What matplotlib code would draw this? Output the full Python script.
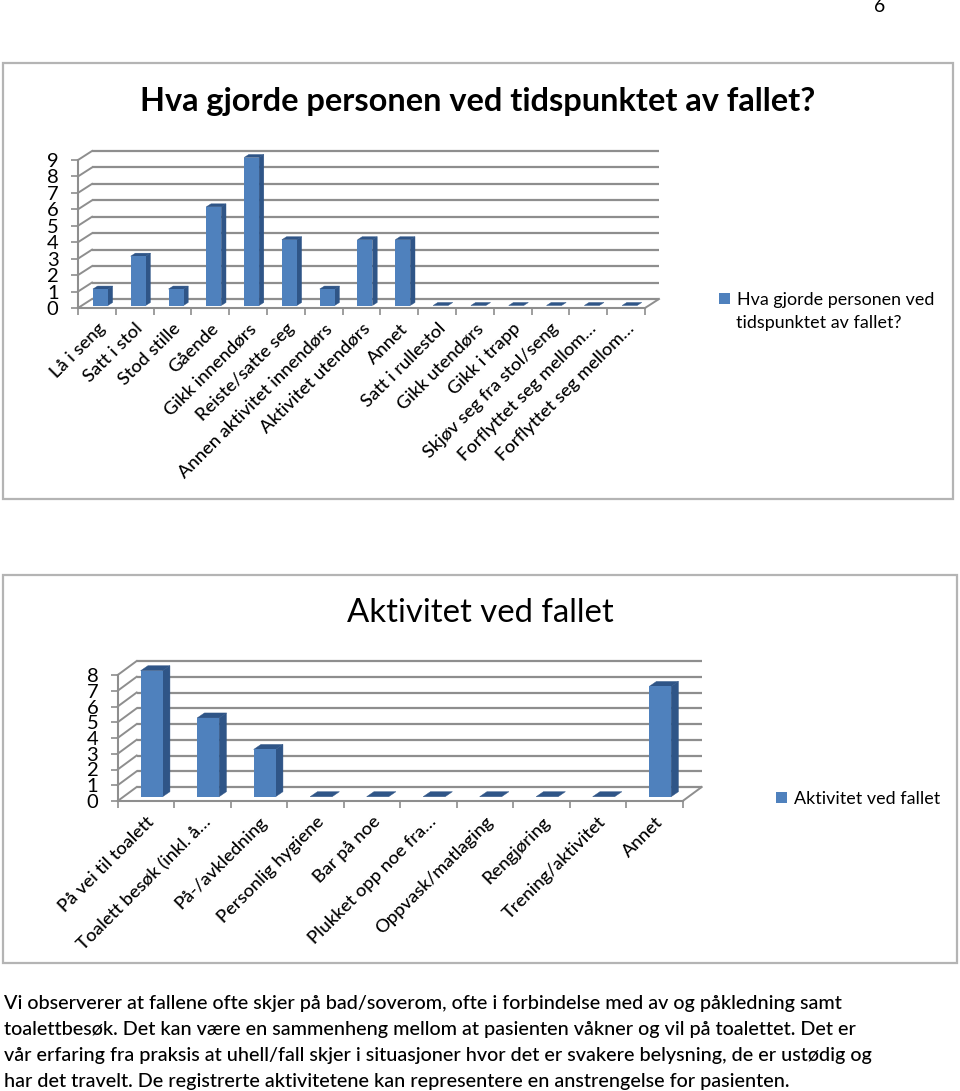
import matplotlib
matplotlib.use("Agg")
import matplotlib.pyplot as plt
from matplotlib.patches import Polygon, Rectangle

plt.rcParams['font.family'] = ['Lato', 'DejaVu Sans']

W, H = 960, 1091
TITLE1 = "Hva gjorde personen ved tidspunktet av fallet?"
LEGEND1 = ["Hva gjorde personen ved", "tidspunktet av fallet?"]
CATS1 = ["Lå i seng", "Satt i stol", "Stod stille", "Gående", "Gikk innendørs",
         "Reiste/satte seg", "Annen aktivitet innendørs", "Aktivitet utendørs",
         "Annet", "Satt i rullestol", "Gikk utendørs", "Gikk i trapp",
         "Skjøv seg fra stol/seng", "Forflyttet seg mellom…", "Forflyttet seg mellom…"]
VALS1 = [1, 3, 1, 6, 9, 4, 1, 4, 4, 0, 0, 0, 0, 0, 0]

TITLE2 = "Aktivitet ved fallet"
LEGEND2 = ["Aktivitet ved fallet"]
CATS2 = ["På vei til toalett", "Toalett besøk (inkl. å…", "På-/avkledning",
         "Personlig hygiene", "Bar på noe", "Plukket opp noe fra…",
         "Oppvask/matlaging", "Rengjøring", "Trening/aktivitet", "Annet"]
VALS2 = [8, 5, 3, 0, 0, 0, 0, 0, 0, 7]

BODY = ["Vi observerer at fallene ofte skjer på bad/soverom, ofte i forbindelse med av og påkledning samt",
        "toalettbesøk. Det kan være en sammenheng mellom at pasienten våkner og vil på toalettet. Det er",
        "vår erfaring fra praksis at uhell/fall skjer i situasjoner hvor det er svakere belysning, de er ustødig og",
        "har det travelt. De registrerte aktivitetene kan representere en anstrengelse for pasienten."]

FRONT, DARK, GRID = "#4F81BD", "#2F5587", "#8E8E8E"

fig = plt.figure(figsize=(W / 100, H / 100), dpi=100)


def frame(x0, y0, x1, y1):
    fig.add_artist(Rectangle((x0 / W, 1 - y1 / H), (x1 - x0) / W, (y1 - y0) / H,
                             transform=fig.transFigure, fill=False,
                             ec="#B4B4B4", lw=1.6))


def chart(cats, vals, left, right, floor, top, dx, dy, bw_px, bdx, bdy, sx, sy,
          legend, leg_xy, tick_fs):
    n = len(cats)
    ymax = max(vals)
    ax = fig.add_axes([left / W, 1 - floor / H, (right - left) / W, (floor - top) / H])
    ax.set_xlim(0, n)
    ax.set_ylim(0, ymax)
    ax.patch.set_alpha(0)
    cw = (right - left) / n      # px per category
    vh = (floor - top) / ymax    # px per unit
    d = lambda px: px / cw
    v = lambda px: px / vh

    # back wall gridlines, side-wall diagonals, floor
    for y in range(ymax + 1):
        ax.plot([d(dx), n + d(dx)], [y + v(dy), y + v(dy)], color=GRID, lw=1.6,
                clip_on=False, zorder=1, solid_capstyle="butt")
        ax.plot([0, d(dx)], [y, y + v(dy)], color=GRID, lw=1.4, clip_on=False, zorder=1)
    ax.plot([n, n + d(dx)], [0, v(dy)], color=GRID, lw=1.4, clip_on=False, zorder=1)

    # bars
    xs = [i + 0.5 + d(bdx) for i in range(n)]
    w = d(bw_px)
    base = v(bdy)
    for x, val in zip(xs, vals):
        l, r = x - w / 2, x + w / 2
        t = base + val
        if val > 0:
            ax.add_patch(Polygon([(r, base), (r + d(sx), base + v(sy)),
                                  (r + d(sx), t + v(sy)), (r, t)],
                                 fc=DARK, ec=DARK, lw=0.3, clip_on=False, zorder=3))
        ax.add_patch(Polygon([(l, t), (r, t), (r + d(sx), t + v(sy)), (l + d(sx), t + v(sy))],
                             fc=DARK, ec=DARK, lw=0.3, clip_on=False, zorder=3))
    bars = ax.bar(xs, vals, width=w, bottom=base, color=FRONT, zorder=4, clip_on=False,
                  linewidth=0)

    # axes
    for s in ("top", "right"):
        ax.spines[s].set_visible(False)
    for s in ("left", "bottom"):
        ax.spines[s].set_color(GRID)
        ax.spines[s].set_linewidth(1.5)
    ax.set_yticks(range(ymax + 1))
    ax.tick_params(axis="y", labelsize=14.5, length=5, width=1.2,
                   color=GRID, pad=9, labelcolor="black")
    ax.set_xticks(range(n + 1))
    ax.set_xticklabels([])
    ax.tick_params(axis="x", which="major", length=5, width=1.2, color=GRID)
    ax.set_xticks([i + 0.5 for i in range(n)], minor=True)
    ax.set_xticklabels(cats, minor=True, rotation=45, ha="right", va="top",
                       rotation_mode="anchor", fontsize=tick_fs, color="black",
                       fontweight="medium")
    ax.tick_params(axis="x", which="minor", length=0, pad=9)

    fig.legend(handles=[bars], labels=[legend[0]], loc="upper left", frameon=False,
               bbox_to_anchor=(leg_xy[0] / W, 1 - leg_xy[1] / H), fontsize=12.9,
               handlelength=0.62, handleheight=0.62, handletextpad=0.36,
               borderpad=0, borderaxespad=0, labelspacing=0)
    for i, line in enumerate(legend[1:], start=1):
        fig.text((leg_xy[0] + 17) / W, 1 - (leg_xy[1] + 8 + 23 * i) / H, line,
                 fontsize=12.9, ha="left", va="center")
    return ax


fig.text(880 / W, 1 - 7 / H, "6", fontsize=14, ha="center", va="center")

frame(2.5, 63.5, 953, 499)
fig.text(478 / W, 1 - 102 / H, TITLE1, fontsize=23.4, fontweight="bold", ha="center", va="center")
chart(CATS1, VALS1, 78, 645, 308, 160, 14, 9, 15, 3.5, 2.5, 4.7, 3,
      LEGEND1, (719, 292), 13.2)

frame(2.5, 574.5, 957, 963)
fig.text(480 / W, 1 - 613 / H, TITLE2, fontsize=23.7, ha="center", va="center")
chart(CATS2, VALS2, 117.7, 682.7, 801, 675, 19, 14, 22, 5.7, 4.3, 7.3, 5,
      LEGEND2, (776, 791), 13.2)

for i, line in enumerate(BODY):
    fig.text(4 / W, 1 - (1003 + 26 * i) / H, line, fontsize=14.25, fontweight="medium",
             ha="left", va="center")

fig.savefig("out.png", dpi=100)
